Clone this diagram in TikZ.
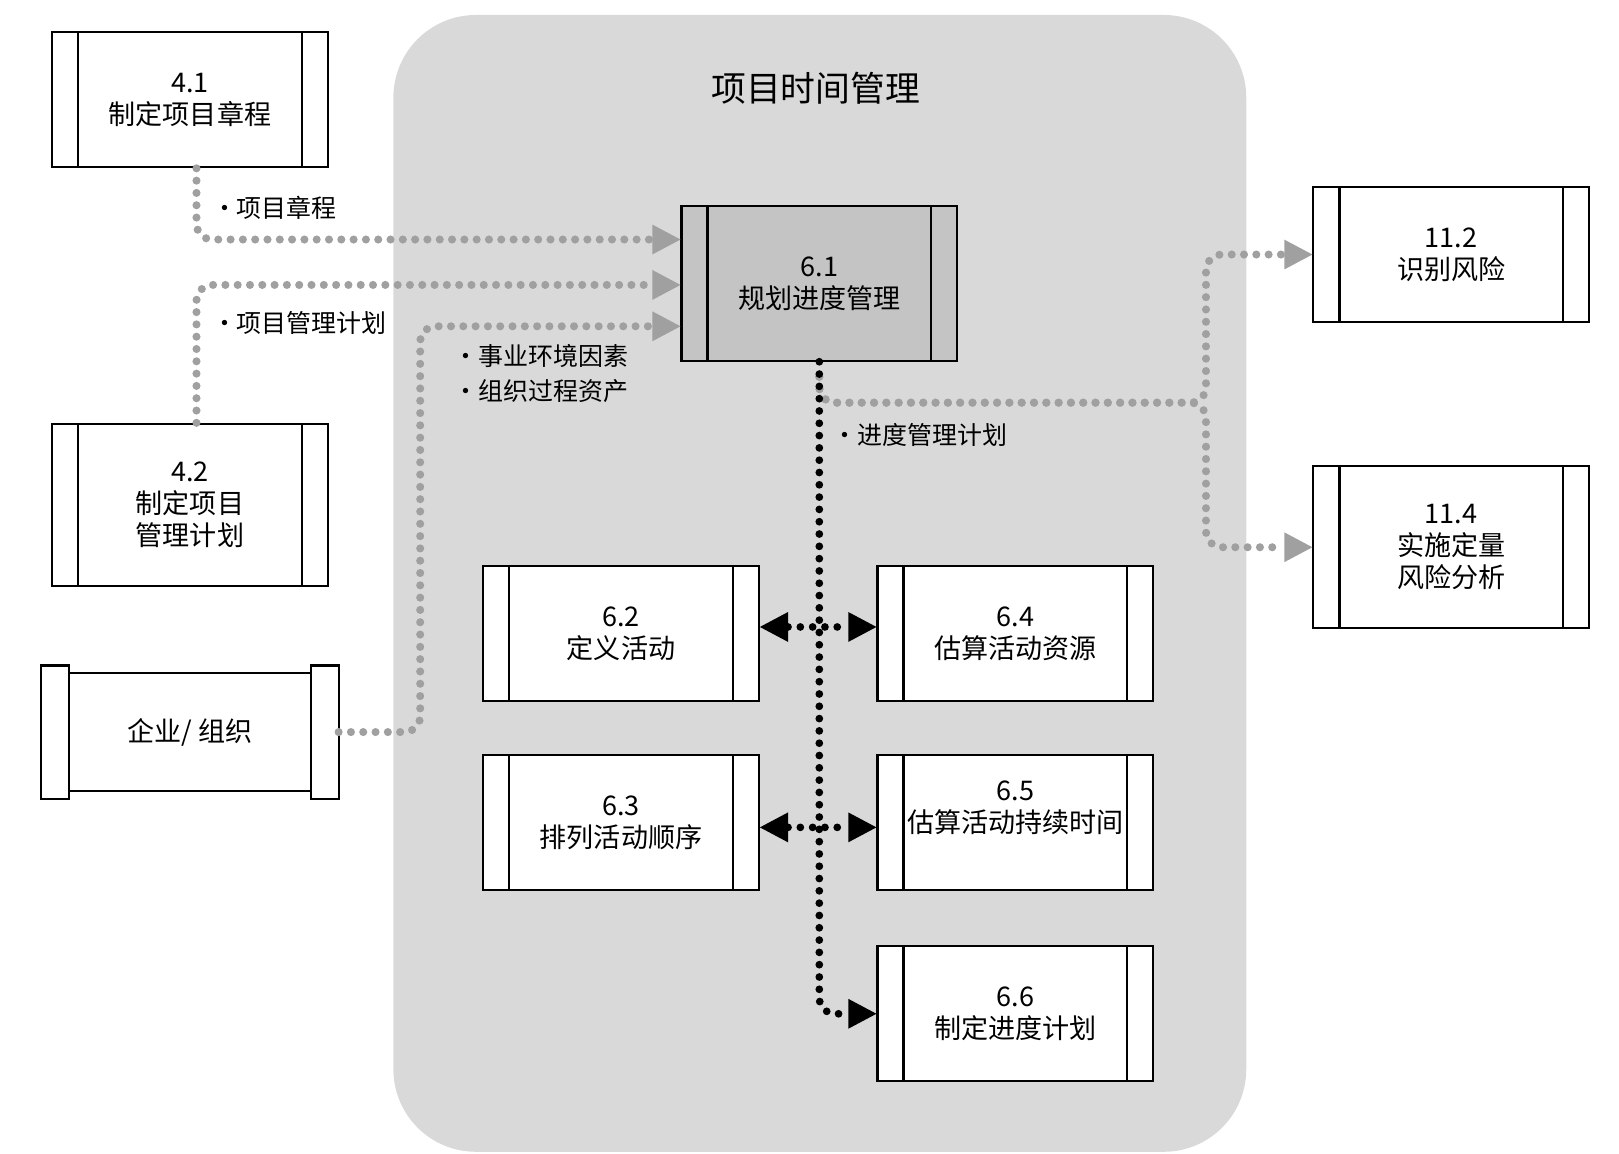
\documentclass[tikz,border=0pt]{standalone}
\usepackage{fontspec}
\setmainfont{Noto Sans CJK SC}
\usepackage{tikz}
\usetikzlibrary{arrows.meta,positioning}
\definecolor{panelgray}{HTML}{D9D9D9}
\definecolor{boxgray}{HTML}{C4C4C4}
\definecolor{dotgray}{HTML}{A0A0A0}

\begin{document}
\begin{tikzpicture}[x=0.02065cm,y=-0.02065cm,>={Triangle[length=16pt,width=17pt,line width=0pt]},
	proc/.style={draw,line width=1.2pt,fill=white,minimum width=5.51cm,minimum height=2.705cm,inner sep=0pt,align=center,font=\fontsize{15.4}{18.2}\selectfont,
		path picture={\draw[line width=1.2pt] ([xshift=0.52cm]path picture bounding box.north west) -- ([xshift=0.52cm]path picture bounding box.south west)
			([xshift=-0.52cm]path picture bounding box.north east) -- ([xshift=-0.52cm]path picture bounding box.south east);}},
	tall/.style={minimum height=3.24cm},
	orgbox/.style={minimum width=5.93cm,minimum height=2.65cm,inner sep=0pt,font=\fontsize{15.4}{18.2}\selectfont},
	lbl/.style={anchor=west,inner sep=0pt,font=\fontsize{14.2}{17}\selectfont},
	gdot/.style={draw=dotgray,line width=4.6pt,line cap=round,dash pattern=on 0pt off 7pt,rounded corners=9pt,->},
	kdot/.style={draw=black,line width=4.4pt,line cap=round,dash pattern=on 0pt off 7pt,rounded corners=9pt}]
	\useasboundingbox (0,0) rectangle (1568,1117);
	\fill[panelgray,rounded corners=1.65cm] (381,14.5) rectangle (1207,1115.5);
	\node[font=\fontsize{19.8}{24}\selectfont] (title) at (790,85) {项目时间管理};

	\node[proc] (n41) at (184,96.5) {4.1\\制定项目章程};
	\node[proc,tall] (n42) at (184,489) {4.2\\制定项目\\管理计划};
	\node[orgbox] (org) at (184,709) {企业/ 组织};
	\draw[line width=1.2pt,fill=white] ([xshift=0.56cm,yshift=-0.15cm]org.north west) rectangle ([xshift=-0.56cm,yshift=0.15cm]org.south east);
	\draw[line width=1.2pt,fill=white] (org.north west) rectangle ([xshift=0.56cm]org.south west)
		([xshift=-0.56cm]org.north east) rectangle (org.south east);
	\node[font=\fontsize{15.4}{18.2}\selectfont] (orgtext) at (org) {企业/ 组织};

	\node[proc,fill=boxgray,minimum height=3.09cm] (n61) at (793.5,274.5) {6.1\\规划进度管理};
	\node[proc] (n62) at (601.5,613.5) {6.2\\定义活动};
	\node[proc] (n63) [below=1.03cm of n62] {6.3\\排列活动顺序};
	\node[proc] (n64) [right=2.33cm of n62] {6.4\\估算活动资源};
	\node[proc] (n65) [below=1.03cm of n64] {6.5\\估算活动持续时间\\\mbox{}};
	\node[proc] (n66) [below=1.08cm of n65] {6.6\\制定进度计划};
	\node[proc] (n112) at (1405.5,246.5) {11.2\\识别风险};
	\node[proc,tall] (n114) at (1405.5,530) {11.4\\实施定量\\风险分析};

	\node[lbl] (l1) at (205,201) {•项目章程};
	\node[lbl] (l2) at (205,313) {•项目管理计划};
	\node[lbl] (l3) at (439,345) {•事业环境因素};
	\node[lbl] (l4) at (439,379) {•组织过程资产};
	\node[lbl] (l5) at (806,421) {•进度管理计划};

	\draw[gdot] ([xshift=0.13cm]n41.south) |- ([yshift=0.878cm]n61.west);
	\draw[gdot] ([xshift=0.13cm]n42.north) |- ([yshift=-0.03cm]n61.west);
	\draw[gdot] (org.east) -- ++(79,0) |- ([yshift=-0.857cm]n61.west);

	\coordinate (split) at (1168,390);
	\draw[gdot] ([yshift=-0.3cm]n61.south) |- (split) |- (n112.west);
	\draw[gdot] ([yshift=-0.3cm]n61.south) |- (split) |- (n114.west);

	\draw[kdot,->] (n61.south) |- (n66.west);
	\draw[kdot,<->] ([yshift=0.13cm]n62.east) -- ([yshift=0.13cm]n64.west);
	\draw[kdot,<->] ([yshift=-0.1cm]n63.east) -- ([yshift=-0.1cm]n65.west);
\end{tikzpicture}
\end{document}
